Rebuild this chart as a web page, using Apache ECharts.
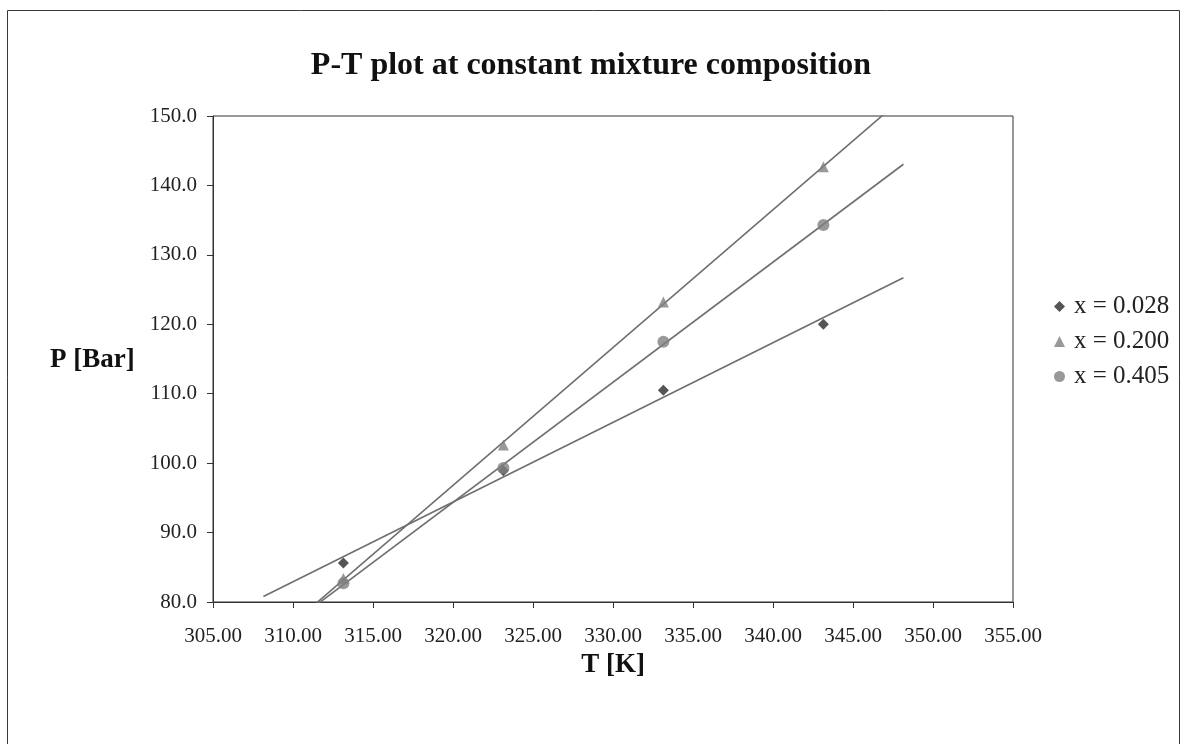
<!DOCTYPE html>
<html>
<head>
<meta charset="utf-8">
<title>P-T plot at constant mixture composition</title>
<script src="https://cdn.jsdelivr.net/npm/echarts@6/dist/echarts.min.js"></script>
<style>
  html, body { margin: 0; padding: 0; background: #ffffff; }
  #chart { width: 1182px; height: 744px; }
</style>
</head>
<body>
<div id="chart"></div>
<script>
// Temperatures (K) at which pressure was measured
const temperatures = [313.15, 323.15, 333.15, 343.15];

// Measured pressure (bar) for each mole fraction
const seriesNames = ['x = 0.028', 'x = 0.200', 'x = 0.405'];
const pressure028 = [85.6, 98.9, 110.5, 120.0];
const pressure200 = [83.4, 102.6, 123.2, 142.7];
const pressure405 = [82.7, 99.3, 117.5, 134.3];

// Axis tick values
const xTicks = [305, 310, 315, 320, 325, 330, 335, 340, 345, 350, 355];
const yTicks = [80, 90, 100, 110, 120, 130, 140, 150];

// Trendlines extend 5 K before and after the measured range
const trendForecast = 5;

const FONT = '"Liberation Serif", "DejaVu Serif", serif';

function linearFit(xs, ys) {
  const n = xs.length;
  const mx = xs.reduce((a, b) => a + b, 0) / n;
  const my = ys.reduce((a, b) => a + b, 0) / n;
  let sxy = 0, sxx = 0;
  for (let i = 0; i < n; i++) {
    sxy += (xs[i] - mx) * (ys[i] - my);
    sxx += (xs[i] - mx) * (xs[i] - mx);
  }
  const slope = sxy / sxx;
  return x => my + slope * (x - mx);
}

function trendLine(ys) {
  const f = linearFit(temperatures, ys);
  const x0 = temperatures[0] - trendForecast;
  const x1 = temperatures[temperatures.length - 1] + trendForecast;
  return [[x0, f(x0)], [x1, f(x1)]];
}

function points(ys) {
  return temperatures.map((t, i) => [t, ys[i]]);
}

const lineStyle = { color: '#6e6e6e', width: 1.6 };

const chart = echarts.init(document.getElementById('chart'), null, { renderer: 'canvas' });

chart.setOption({
  backgroundColor: '#ffffff',
  animation: false,
  textStyle: { fontFamily: FONT },
  title: {
    text: 'P-T plot at constant mixture composition',
    left: 'center',
    top: 45,
    textStyle: { fontFamily: FONT, fontSize: 32, fontWeight: 'bold', color: '#111' }
  },
  graphic: [{
    type: 'rect',
    shape: { x: 7.5, y: 10.5, width: 1172, height: 760 },
    style: { fill: 'none', stroke: '#3a3a3a', lineWidth: 1 },
    silent: true
  }, {
    type: 'text',
    left: 50,
    top: 347,
    style: { text: 'P [Bar]', font: 'bold 27px ' + FONT, fill: '#111' }
  }],
  legend: {
    orient: 'vertical',
    left: 1049,
    top: 289,
    itemWidth: 11,
    itemHeight: 11,
    itemGap: 10,
    data: [
      { name: seriesNames[0], icon: 'diamond' },
      { name: seriesNames[1], icon: 'triangle' },
      { name: seriesNames[2], icon: 'circle' }
    ],
    textStyle: { fontFamily: FONT, fontSize: 25, color: '#222', padding: [0, 0, 0, 4] }
  },
  grid: {
    left: 213, right: 169, top: 116, bottom: 142,
    show: true, borderColor: '#333', borderWidth: 1, backgroundColor: 'transparent'
  },
  xAxis: {
    type: 'value',
    min: xTicks[0],
    max: xTicks[xTicks.length - 1],
    interval: xTicks[1] - xTicks[0],
    name: 'T [K]',
    nameLocation: 'middle',
    nameGap: 49,
    nameTextStyle: { fontFamily: FONT, fontSize: 27, fontWeight: 'bold', color: '#111' },
    axisLine: { lineStyle: { color: '#333', width: 1 } },
    axisTick: { show: true, inside: false, length: 6, lineStyle: { color: '#333' } },
    axisLabel: {
      fontFamily: FONT, fontSize: 21, color: '#222', margin: 24,
      formatter: v => v.toFixed(2)
    },
    splitLine: { show: false }
  },
  yAxis: {
    type: 'value',
    min: yTicks[0],
    max: yTicks[yTicks.length - 1],
    interval: yTicks[1] - yTicks[0],
    axisLine: { show: true, lineStyle: { color: '#333', width: 1 } },
    axisTick: { show: true, inside: false, length: 6, lineStyle: { color: '#333' } },
    axisLabel: {
      fontFamily: FONT, fontSize: 21, color: '#222', margin: 16,
      formatter: v => v.toFixed(1)
    },
    splitLine: { show: false }
  },
  series: [
    {
      name: 'trend 0.028', type: 'line', data: trendLine(pressure028),
      symbol: 'none', lineStyle, silent: true, clip: true, z: 2
    },
    {
      name: 'trend 0.200', type: 'line', data: trendLine(pressure200),
      symbol: 'none', lineStyle, silent: true, clip: true, z: 2
    },
    {
      name: 'trend 0.405', type: 'line', data: trendLine(pressure405),
      symbol: 'none', lineStyle, silent: true, clip: true, z: 2
    },
    {
      name: seriesNames[0], type: 'scatter', data: points(pressure028),
      symbol: 'diamond', symbolSize: 11,
      itemStyle: { color: '#2a2a2a' }, z: 5
    },
    {
      name: seriesNames[1], type: 'scatter', data: points(pressure200),
      symbol: 'triangle', symbolSize: 11,
      itemStyle: { color: '#7f7f7f' }, z: 5
    },
    {
      name: seriesNames[2], type: 'scatter', data: points(pressure405),
      symbol: 'circle', symbolSize: 12,
      itemStyle: { color: '#7f7f7f' }, z: 5
    }
  ]
});
</script>
</body>
</html>
